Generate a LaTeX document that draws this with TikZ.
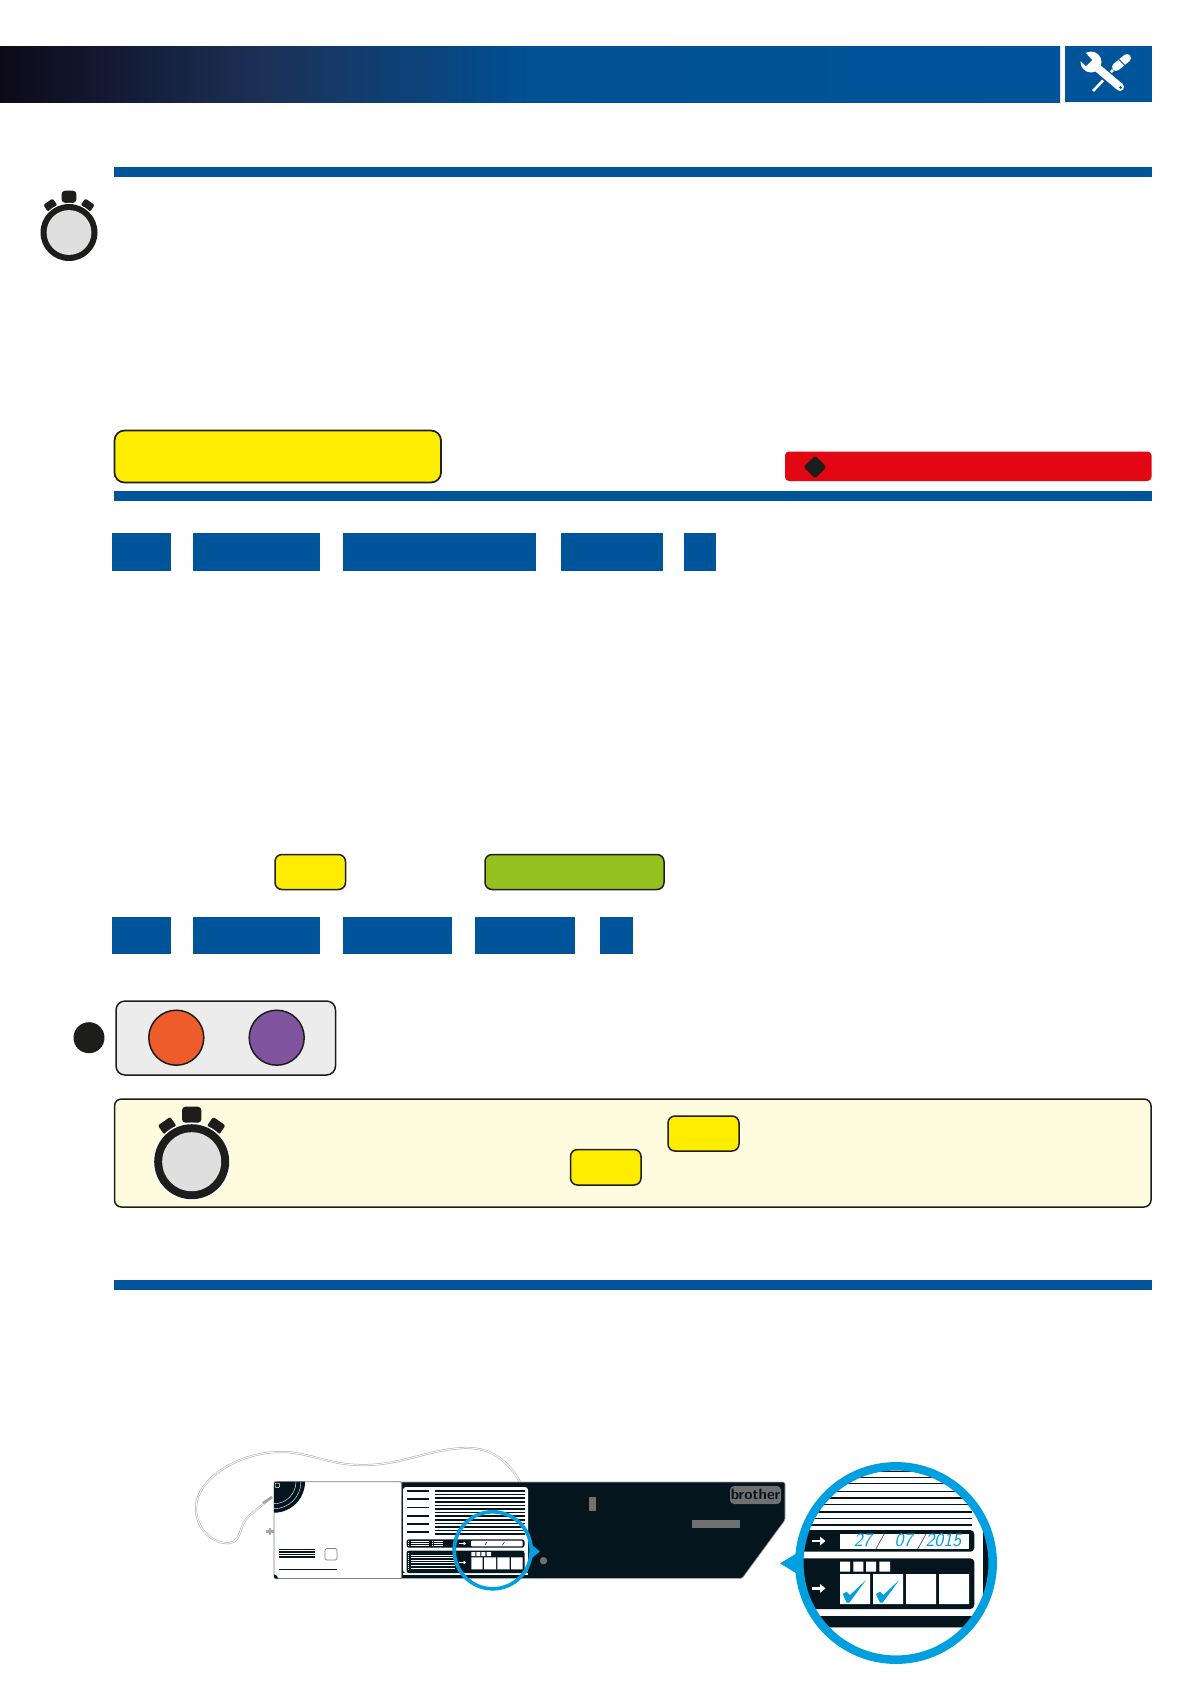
\documentclass[tikz,border=0pt]{standalone}
\usetikzlibrary{
    arrows.meta,
    shapes.geometric
}
\definecolor{headblue}{RGB}{0, 84, 154}
\definecolor{headmid}{RGB}{28, 49, 88}
\definecolor{headdark}{RGB}{13, 10, 24}
\definecolor{markyellow}{RGB}{255, 237, 0}
\definecolor{markgreen}{RGB}{149, 193, 31}
\definecolor{markred}{RGB}{227, 6, 19}
\definecolor{markorange}{RGB}{238, 92, 44}
\definecolor{markpurple}{RGB}{128, 84, 158}
\definecolor{inkblack}{RGB}{29, 29, 27}
\definecolor{palenote}{RGB}{254, 251, 222}
\definecolor{panelgray}{RGB}{236, 236, 237}
\definecolor{facegray}{RGB}{223, 223, 223}
\definecolor{bodydark}{RGB}{4, 21, 30}
\definecolor{lensblue}{RGB}{0, 159, 223}
\definecolor{badgegray}{RGB}{112, 112, 112}
\tikzset{
    every picture/.style = {
        x = 1pt,
        y = -1pt
    },
    rulebar/.style = {
        fill = headblue
    },
    tabbox/.style = {
        fill = headblue
    },
    keybox/.style = {
        draw = inkblack,
        line width = 1.5pt,
        rounded corners = 7pt
    },
    bodyline/.style = {
        draw = bodydark,
        line width = 1.6pt
    },
    lightline/.style = {
        draw = white,
        line width = 0.7pt
    },
    whitearrow/.style = {
        draw = white,
        line width = 2.8pt,
        -{Triangle[width = 8.5pt, length = 5.5pt]}
    }
}
\newcommand{\stopwatch}[3]{
    \begin{scope}[shift = {(#1, #2)}, scale = #3]
        \fill[inkblack, rounded corners = 3.5pt] (-9.7, -55) rectangle (9.7, -39);
        \fill[inkblack, shift = {(-24.5, -36)}, rotate = 35, rounded corners = 2pt] (-7.5, -5.5) rectangle (7.5, 5.5);
        \fill[inkblack, shift = {(24.5, -36)}, rotate = -35, rounded corners = 2pt] (-7.5, -5.5) rectangle (7.5, 5.5);
        \fill[white] (0, 0) circle (39);
        \fill[inkblack] (0, 0) circle (37.5);
        \fill[facegray] (0, 0) circle (29.5);
    \end{scope}
}
\begin{document}
\begin{tikzpicture}
    \useasboundingbox (0, 0) rectangle (1191, 1684);

    % header
    \shade[left color = headdark, right color = headmid] (0, 46) rectangle (267.5, 102);
    \shade[left color = headmid, right color = headblue!96!black] (267, 46) rectangle (534.5, 102);
    \shade[left color = headblue!96!black, right color = headblue] (534, 46) rectangle (1060, 102);
    \fill[headblue] (1064.5, 46) rectangle (1151.5, 102);

    \draw[white, line width = 2.6pt] (1093, 91) -- (1113, 70);
    \draw[white, line width = 8pt, line cap = round] (1116, 67) -- (1127, 58);
    \draw[headblue, line width = 1pt] (1119, 59.5) -- (1125, 65.5);
    \draw[headblue, line width = 11pt] (1097, 68) -- (1121, 88);
    \draw[white, line width = 8pt, line cap = round] (1094, 65) -- (1120, 87);
    \fill[white] (1091, 62) circle (10.5);
    \fill[headblue] (1083, 50) -- (1092, 60) -- (1086, 66) -- (1076, 57) -- cycle;
    \fill[headblue] (1120.5, 87.5) circle (1.5);

    % first section
    \fill[rulebar] (114, 167) rectangle (1152, 177);
    \stopwatch{69}{232.5}{0.76}

    \filldraw[keybox, fill = markyellow, line width = 1.7pt, rounded corners = 10pt] (114.5, 430.5) rectangle (441, 482.5);
    \fill[markred, rounded corners = 4pt] (785, 451.5) rectangle (1151.5, 481);
    \fill[inkblack, rounded corners = 1.5pt] (803.5, 467) -- (815, 455.5) -- (826.5, 467) -- (815, 478.5) -- cycle;
    \fill[rulebar] (114, 491) rectangle (1151.5, 501);

    \fill[tabbox] (112, 533) rectangle (171, 571);
    \fill[tabbox] (193, 533) rectangle (320, 571);
    \fill[tabbox] (343, 533) rectangle (536, 571);
    \fill[tabbox] (561, 533) rectangle (663, 571);
    \fill[tabbox] (684, 533) rectangle (716, 571);

    \filldraw[keybox, fill = markyellow] (275, 854.5) rectangle (345.5, 889.5);
    \filldraw[keybox, fill = markgreen] (485, 854.5) rectangle (664, 889.5);

    \fill[tabbox] (112, 917) rectangle (171, 954);
    \fill[tabbox] (193, 917) rectangle (320, 954);
    \fill[tabbox] (343, 917) rectangle (452, 954);
    \fill[tabbox] (475, 917) rectangle (575, 954);
    \fill[tabbox] (600, 917) rectangle (633, 954);

    % lamp panel
    \fill[inkblack] (89, 1037.7) circle (15.5);
    \filldraw[keybox, fill = panelgray, rounded corners = 9pt] (116, 1001) rectangle (335.5, 1075);
    \filldraw[draw = inkblack, line width = 1.5pt, fill = markorange] (176.3, 1037.7) circle (27.5);
    \filldraw[draw = inkblack, line width = 1.5pt, fill = markpurple] (276.7, 1037.7) circle (27.5);

    % note
    \filldraw[keybox, fill = palenote] (114.5, 1099) rectangle (1151, 1207);
    \stopwatch{191.7}{1161.7}{1}
    \filldraw[keybox, fill = markyellow] (668, 1116) rectangle (739, 1151);
    \filldraw[keybox, fill = markyellow] (570.5, 1149.5) rectangle (641, 1185);

    % second section
    \fill[rulebar] (114, 1280) rectangle (1151.5, 1290);

    % cable
    \draw[draw = gray!70, double = white, double distance = 1pt, line width = 0.5pt]
        (520, 1482) .. controls (505, 1455) and (485, 1447) .. (463, 1448)
        .. controls (425, 1450) and (400, 1466) .. (360, 1465)
        .. controls (330, 1465) and (305, 1451) .. (280, 1452)
        .. controls (240, 1452) and (197, 1478) .. (196, 1507)
        .. controls (195, 1530) and (215, 1545) .. (230, 1543)
        .. controls (243, 1540) and (238, 1525) .. (250, 1515) -- (272, 1497);
    \draw[gray!70, line width = 2.5pt] (263, 1503) -- (272, 1497);
    \fill[gray!70] (266, 1530) rectangle (274, 1532.5);
    \fill[gray!70] (269, 1528) rectangle (270.5, 1534.5);

    % machine
    \filldraw[fill = bodydark, draw = gray!70, line width = 0.6pt, rounded corners = 1.5pt]
        (395, 1482) -- (785, 1482) -- (785, 1520) -- (742, 1578.5) -- (395, 1578.5) -- cycle;
    \filldraw[fill = white, draw = gray, line width = 0.8pt, rounded corners = 2pt] (274, 1481.7) rectangle (401.7, 1578.5);
    \begin{scope}
        \clip[rounded corners = 2pt] (274, 1481.7) rectangle (401.7, 1578.5);
        \fill[bodydark] (274, 1481.7) circle (31);
        \draw[white, line width = 0.4pt] (274, 1481.7) circle (27);
        \draw[white, line width = 0.4pt] (274, 1481.7) circle (22);
        \fill[bodydark] (274, 1578.5) circle (4);
    \end{scope}
    \draw[white, line width = 0.5pt, rounded corners = 1pt] (275, 1483) rectangle (279.5, 1487.5);
    \draw[bodydark, line width = 1pt] (279, 1549.7) -- (315, 1549.7);
    \draw[bodydark, line width = 1.4pt] (279, 1552) -- (315, 1552);
    \draw[bodydark, line width = 1.4pt] (279, 1554.5) -- (315, 1554.5);
    \draw[bodydark, line width = 1.4pt] (279, 1557) -- (315, 1557);
    \draw[gray, line width = 0.7pt, rounded corners = 1.5pt] (325, 1548.5) rectangle (337, 1560);
    \draw[bodydark, line width = 1pt] (279, 1569) -- (337, 1569);

    \fill[white, rounded corners = 3pt] (403, 1487) rectangle (528, 1573);
    \fill[white] (403, 1573) rectangle (528, 1575);
    \draw[bodyline] (407, 1490.7) -- (429, 1490.7) (407, 1499) -- (429, 1499) (407, 1515.7) -- (429, 1515.7)
        (407, 1523.7) -- (429, 1523.7) (407, 1531.7) -- (429, 1531.7);
    \draw[bodyline, line width = 0.9pt] (407, 1507.3) -- (429, 1507.3);
    \draw[bodyline, line width = 1.6pt]
        (435, 1491) -- (525, 1491) (435, 1494.6) -- (525, 1494.6) (435, 1498.2) -- (525, 1498.2)
        (435, 1501.8) -- (525, 1501.8) (435, 1505.4) -- (525, 1505.4) (435, 1509) -- (525, 1509)
        (435, 1512.6) -- (525, 1512.6) (435, 1516.2) -- (525, 1516.2) (435, 1519.8) -- (525, 1519.8)
        (435, 1523.4) -- (525, 1523.4) (435, 1527) -- (525, 1527) (435, 1530.6) -- (525, 1530.6)
        (435, 1534.2) -- (525, 1534.2);

    \fill[bodydark, rounded corners = 2.5pt] (406.5, 1539.3) rectangle (524.5, 1547.7);
    \fill[white, rounded corners = 1pt] (471, 1540.7) rectangle (522.7, 1546.3);
    \draw[lightline] (411, 1541.5) -- (429, 1541.5) (411, 1543.5) -- (429, 1543.5) (411, 1545.5) -- (429, 1545.5)
        (434, 1541.5) -- (443, 1541.5) (434, 1543.5) -- (443, 1543.5) (434, 1545.5) -- (443, 1545.5);
    \draw[white, line width = 1pt, dash pattern = on 1pt off 1pt] (408.8, 1540.5) -- (408.8, 1546.5) (432, 1540.5) -- (432, 1546.5);
    \draw[bodydark, line width = 0.5pt] (485, 1545) -- (487, 1542) (502.5, 1545) -- (504.5, 1542);
    \fill[bodydark, rounded corners = 2.5pt] (406.5, 1550.7) rectangle (524.5, 1573);
    \fill[white] (471.3, 1552) rectangle (475.3, 1556) (476.3, 1552) rectangle (480.3, 1556)
        (481.3, 1552) rectangle (485.3, 1556) (486.7, 1552) rectangle (491, 1556);
    \fill[white] (471.3, 1557.3) rectangle (482.7, 1569.3) (484, 1557.3) rectangle (496, 1569.3)
        (497.3, 1557.3) rectangle (509.7, 1569.3) (511, 1557.3) rectangle (522.7, 1569.3);
    \draw[lightline] (411, 1555) -- (455, 1555) (411, 1557.5) -- (455, 1557.5) (411, 1560) -- (455, 1560)
        (411, 1562.7) -- (455, 1562.7) (411, 1565.3) -- (455, 1565.3) (411, 1568) -- (455, 1568);
    \draw[white, line width = 1pt, dash pattern = on 1pt off 1pt] (408.8, 1552.5) -- (408.8, 1570.5);
    \draw[whitearrow, line width = 1.2pt, -{Triangle[width = 3.5pt, length = 2.5pt]}] (459, 1543.5) -- (466, 1543.5);
    \draw[whitearrow, line width = 1.2pt, -{Triangle[width = 3.5pt, length = 2.5pt]}] (459, 1562.5) -- (466, 1562.5);

    \fill[badgegray] (589, 1497) rectangle (596, 1511);
    \fill[badgegray] (692, 1520) rectangle (740, 1528);
    \fill[badgegray] (543.5, 1560.7) circle (3.7);
    \fill[badgegray, rounded corners = 4pt] (730, 1486) rectangle (781, 1504);
    \node[font = \fontsize{15}{15}\selectfont\sffamily\bfseries, text = bodydark, inner sep = 0pt] (badge) at (755.5, 1494) {brother};

    % small lens
    \draw[lensblue, line width = 3.6pt] (492.7, 1550.3) circle (38.5);
    \fill[lensblue] (540, 1551.5) -- (530, 1543.5) -- (530, 1559.5) -- cycle;

    % big lens
    \fill[lensblue] (780, 1563.3) -- (799, 1552) -- (799, 1575) -- cycle;
    \begin{scope}
        \clip (896, 1563) circle (97);
        \fill[white] (790, 1455) rectangle (1005, 1670);
        \fill[bodydark] (982.7, 1500) rectangle (1005, 1630);
        \draw[bodyline, line width = 1pt] (790, 1471.7) -- (972.3, 1471.7);
        \draw[bodyline, line width = 1.5pt] (790, 1477.3) -- (972.3, 1477.3);
        \draw[bodyline, line width = 1.5pt] (790, 1483.3) -- (972.3, 1483.3);
        \draw[bodyline, line width = 1pt] (790, 1491) -- (972.3, 1491);
        \draw[bodyline, line width = 1.7pt] (790, 1497.7) -- (972.3, 1497.7);
        \draw[bodyline, line width = 1pt] (790, 1504.3) -- (972.3, 1504.3);
        \draw[bodyline, line width = 1.7pt] (790, 1511.7) -- (972.3, 1511.7);
        \draw[bodyline, line width = 1pt] (790, 1518.7) -- (972.3, 1518.7);
        \draw[bodyline, line width = 1.8pt] (790, 1525.3) -- (972.3, 1525.3);
        \fill[bodydark, rounded corners = 4pt] (780, 1530) rectangle (974.3, 1551.7);
        \fill[white] (840, 1534) rectangle (969, 1549.3);
        \fill[bodydark, rounded corners = 4pt] (780, 1558.3) rectangle (974.3, 1609);
        \fill[white] (840, 1561.7) rectangle (850, 1571.7) (853.3, 1561.7) rectangle (863.3, 1571.7)
            (866, 1561.7) rectangle (876, 1571.7) (879.3, 1561.7) rectangle (890, 1571.7);
        \fill[white] (840, 1574) rectangle (870, 1604) (873, 1574) rectangle (903, 1604)
            (906, 1574) rectangle (936, 1604) (939, 1574) rectangle (969, 1604);
        \fill[gray!60] (780, 1616) rectangle (1000, 1628);
        \fill[bodydark, rounded corners = 3pt] (780, 1616) rectangle (1005, 1627);
        \draw[whitearrow] (811.7, 1541) -- (825.5, 1541);
        \draw[whitearrow] (811.7, 1588.3) -- (825.5, 1588.3);
        \fill[lensblue] (842.7, 1594) -- (846.7, 1591.7) -- (850, 1595) -- (866, 1580) -- (849.3, 1602.7) -- (846.7, 1602.7) -- cycle;
        \fill[lensblue] (876, 1594) -- (880, 1591.7) -- (883.3, 1595) -- (899.3, 1580) -- (882.6, 1602.7) -- (880, 1602.7) -- cycle;
    \end{scope}
    \node[font = \fontsize{19}{19}\selectfont\sffamily\itshape, text = lensblue, inner sep = 0pt] (datefield) at (907.5, 1541.5)
        {27{\color{bodydark}\,/}\hspace{11pt}07\hspace{4pt}{\color{bodydark}/}2015};
    \draw[lensblue, line width = 8.5pt] (896, 1563) circle (96.7);
\end{tikzpicture}
\end{document}
